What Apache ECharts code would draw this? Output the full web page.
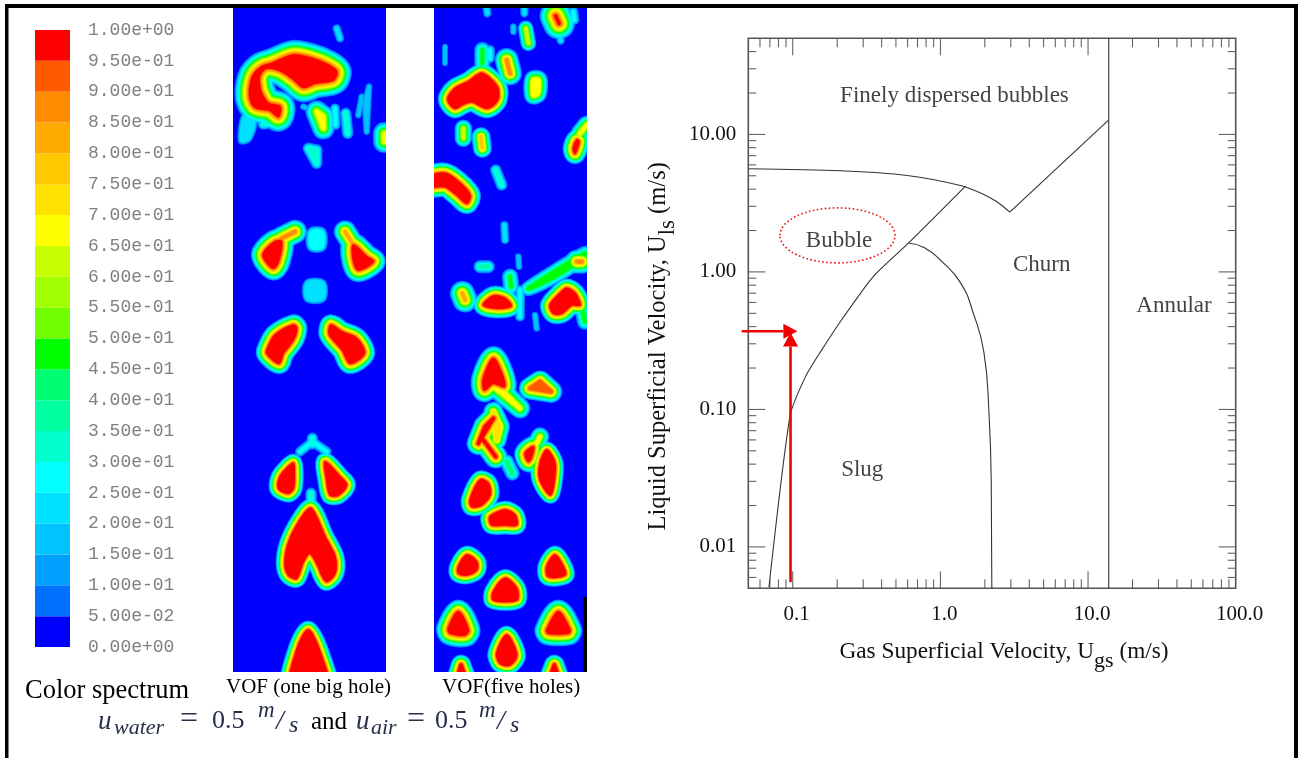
<!DOCTYPE html>
<html><head><meta charset="utf-8">
<style>html,body{margin:0;padding:0;background:#fff}#c{width:1298px;height:758px}</style>
<script src="https://cdn.jsdelivr.net/npm/echarts@6/dist/echarts.min.js"></script>
</head><body><div id="c"></div>
<script>
// ---- colour spectrum (top to bottom) ----
const spectrumLabels = ['0.00e+00','5.00e-02','1.00e-01','1.50e-01','2.00e-01','2.50e-01','3.00e-01','3.50e-01','4.00e-01','4.50e-01','5.00e-01','5.50e-01','6.00e-01','6.50e-01','7.00e-01','7.50e-01','8.00e-01','8.50e-01','9.00e-01','9.50e-01','1.00e+00'];
const spectrumColors = ['#0000ff','#0070ff','#00a0ff','#00c4ff','#00e0ff','#00ffff','#00ffcc','#00ffa0','#00ff70','#00ff00','#70ff00','#a0ff00','#c8ff00','#ffff00','#ffe100','#ffc800','#ffaa00','#ff8c00','#ff5a00','#ff0000'];
const spectrumStep = [0.05];

// ---- VOF contour cores: [peak level, transition width, [x,y, x,y, ...]] ----
const leftVofUpper = [
 [19,1,[75,260,85,225,110,200,140,190,205,165,260,175,310,195,335,215,325,240,270,250,235,262,205,238,165,212,125,205,105,225,103,250,110,280,130,310,165,320,160,350,135,332,90,322,75,295]],
 [4,1,[60,350,85,365,70,415,50,420]],[6,1,[115,372,155,365]],[4,1,[335,85,345,115]],
 [13,1,[275,335,295,350,295,385]],[5,1,[330,325,332,375]],[6,1,[362,340,368,400]],
 [3,1,[410,290,400,345]],[3,1,[432,260,420,310,425,395]],[13,1,[478,400,478,425]],
 [6,1,[250,445,275,450,275,490]],[3,1,[235,320,240,322]],
 [19,.8,[115,760,150,725,170,725,160,785,145,805,120,780]],[17,.8,[170,715,210,695]],
 [19,.8,[385,735,425,770,445,785,400,810,385,780]],[16,.8,[360,695,385,735]],
 [5,1,[260,697,290,697,290,740,260,740]],[4,1,[248,850,292,850,292,895,248,895]],
 [19,.7,[205,975,215,985,205,1020,175,1060,162,1090,125,1060,130,1040,150,1005]],
 [19,.7,[318,975,350,995,395,1015,418,1060,375,1090,352,1050,325,1020,312,1000]]
];
const leftVofLower = [
 [6,1,[262,295,262,312]],[5,1,[262,305,225,335]],[5,1,[262,305,305,335]],
 [19,.6,[205,370,208,400,205,445,190,460,160,445,165,410,190,380]],
 [19,.6,[300,365,345,410,365,435,340,465,315,465,305,420]],
 [6,1,[258,460,258,480]],
 [19,.6,[258,505,300,590,330,650,330,700,305,725,290,705,280,680,255,640,235,665,215,715,190,705,180,670,190,610,225,540]],
 [19,.6,[250,870,290,950,310,1050,195,1050,215,930]]
];
const rightVofUpper = [
 [19,1,[392,48,402,70]],[4,1,[405,110,407,122]],[4,1,[185,25,187,40]],[4,1,[298,25,298,40]],[5,1,[445,35,448,60]],
 [12,.7,[302,85,310,130]],[3,1,[265,80,265,95]],[3,.7,[60,140,60,190]],[9,1,[172,150,172,190]],[5,1,[195,150,195,175]],
 [17,.8,[245,180,255,220]],[13,.8,[325,240,340,240,338,280,325,285]],
 [19,.65,[70,290,90,265,130,245,170,220,205,245,220,270,215,305,185,325,140,305,110,315,90,325,70,305]],
 [12,.8,[115,385,115,415]],[15,.7,[168,410,172,445]],[6,1,[212,510,230,555]],[4,1,[238,675,240,720]],
 [19,.7,[455,420,462,425,450,460,445,445]],[13,.8,[465,400,485,375]],
 [19,.7,[10,530,60,520,100,545,135,585,125,610,95,585,60,560,10,560]],
 [17,.8,[455,785,470,785]],[9,.9,[480,760,430,805,350,850,310,865]],
 [16,.9,[112,880,120,900]],[7,1,[165,800,190,800]],[9,1,[255,830,258,860]],
 [19,.65,[175,915,205,888,240,895,258,918,215,925]],[5,1,[285,870,285,950]],
 [3,1,[280,770,282,800]],[3,1,[330,945,335,985]],
 [19,.65,[375,915,405,880,425,865,450,880,465,915,440,915,410,940,385,940]],[9,1,[475,940,480,965]]
];
const rightVofLower = [
 [19,.8,[175,115,205,55,230,100,238,140,205,130,178,150]],[13,.9,[200,135,245,165,285,205]],
 [18,.7,[315,145,345,125,378,155]],
 [19,.7,[205,235,180,260,160,310]],[19,.7,[175,300,212,350]],[14,.8,[205,215,225,260,215,300]],
 [8,1,[245,365,262,400]],
 [19,.7,[300,340,325,320,320,350,310,365]],[13,.8,[345,290,330,320]],
 [19,.55,[365,330,390,370,385,440,375,465,345,420,345,370]],
 [19,.6,[135,480,165,420,190,430,195,465,170,495,140,500]],
 [19,.6,[195,530,240,510,270,525,275,555,240,555,200,555]],
 [19,.6,[100,680,125,645,155,665,155,690,125,705,100,700]],
 [19,.6,[365,680,390,645,415,680,420,705,370,710]],
 [19,.6,[205,755,240,715,275,745,275,780,205,780]],
 [19,.8,[70,865,100,815,130,870,120,885,75,880]],
 [19,.8,[365,870,400,815,435,870,430,880,370,880]],
 [19,.6,[215,940,245,885,275,945,255,975,225,970]],
 [19,.6,[85,1050,108,975,135,1050]],
 [19,.6,[360,1050,388,975,415,1050]]
];
const lowerPanelOffset = [1020];

// ---- flow-regime map ----
const xMinorTicks = [.06,.07,.08,.09,.2,.3,.4,.5,.6,.7,.8,.9,2,3,4,5,6,7,8,9,20,30,40,50,60,70,80,90];
const xMajorTicks = [.1,1,10];
const yMinorTicks = [.006,.007,.008,.009,.02,.03,.04,.05,.06,.07,.08,.09,.2,.3,.4,.5,.6,.7,.8,.9,2,3,4,5,6,7,8,9,20,30,40];
const yMajorTicks = [.01,.1,1,10];
const dispersedCurve = [[.05,5.63],[.2095,5.44],[.594,5.03],[1.367,4.25],[1.968,3.66],[2.43,3.22],[2.95,2.72]];
const churnRise = [[2.95,2.72],[13.76,12.72]];
const bubbleSlugCurve = [[.069,.0051],[.096,.0904],[.1225,.1746],[.153,.259],[.215,.451],[.352,.929],[.61,1.624],[1.48,4.21]];
const slugChurnCurve = [[.61,1.624],[.78,1.5],[1.0,1.22],[1.367,.836],[1.68,.492],[1.97,.261],[2.13,.0973],[2.21,.0295],[2.23,.005]];
const annularLine = [[13.8,.005],[13.8,50]];
const regionNames = ['Finely dispersed bubbles','Bubble','Churn','Annular','Slug'];
const regionX = [1.245,.206,4.85,38.2,.2955];
const regionY = [19.1,1.687,1.13,.569,.036];
const ellipseCentre = [.2009,1.844];
const arrowSegments = [[.0966,.00554,.0966,.362],[.0451,.37,.1075,.37]];

const SERIF = 'Liberation Serif';
const blobs = (u,l)=>u.concat(l.map(b=>[b[0],b[1],b[2].map((v,i)=>i%2?v+lowerPanelOffset[0]:v)]));
const vofPanels = [blobs(leftVofUpper,leftVofLower), blobs(rightVofUpper,rightVofLower)];

function vofRender(panel){
  return function(params, api){
    const level = params.dataIndex + 1;
    const color = spectrumColors[level];
    const children = [];
    vofPanels[panel].forEach(b=>{
      if(b[0] < level) return;
      const pts=[];
      for(let i=0;i<b[2].length;i+=2) pts.push(api.coord([b[2][i],b[2][i+1]]));
      const thin = pts.length<4 || b[0]<19;
      children.push({type:'polygon',shape:{points:pts,smooth:pts.length>=4?0.3:0},
        style:{fill:color,stroke:color,lineWidth:(thin?3.5:1.5)+1.6*b[1]*(b[0]-level),lineJoin:'round',lineCap:'round'}});
    });
    return {type:'group',children};
  };
}
const vofLevels = spectrumColors.slice(1).map((c,i)=>[0,0,i+1]);

function tickRender(params, api){
  const tl=api.coord([.05,50]), br=api.coord([100,.005]);
  const st={stroke:'#555',lineWidth:1};
  const ch=[];
  const mk=(x1,y1,x2,y2)=>ch.push({type:'line',shape:{x1,y1,x2,y2},style:st});
  [[xMinorTicks,9],[xMajorTicks,17]].forEach(([t,len])=>t.forEach(v=>{
    const x=api.coord([v,1])[0]; mk(x,br[1],x,br[1]-len); mk(x,tl[1],x,tl[1]+len);
  }));
  [[yMinorTicks,8],[yMajorTicks,17]].forEach(([t,len])=>t.forEach(v=>{
    const y=api.coord([1,v])[1]; mk(tl[0],y,tl[0]+len,y); mk(br[0],y,br[0]-len,y);
  }));
  return {type:'group',children:ch};
}
function ellipseRender(params, api){
  const c=api.coord(ellipseCentre);
  return {type:'ellipse',shape:{cx:c[0],cy:c[1],rx:57.5,ry:27.5},
    style:{fill:'none',stroke:'#f01010',lineWidth:1.6,lineDash:[1.6,2.4]}};
}
function arrowRender(params, api){
  const a=arrowSegments[params.dataIndex];
  const p=api.coord([a[0],a[1]]), q=api.coord([a[2],a[3]]);
  const dx=q[0]-p[0], dy=q[1]-p[1], n=Math.hypot(dx,dy), ux=dx/n, uy=dy/n, h=14, w=7.5;
  const bx=q[0]-ux*h, by=q[1]-uy*h;
  return {type:'group',children:[
    {type:'line',shape:{x1:p[0],y1:p[1],x2:bx,y2:by},style:{stroke:'#f00000',lineWidth:2.6}},
    {type:'polygon',shape:{points:[[q[0],q[1]],[bx-uy*w,by+ux*w],[bx+uy*w,by-ux*w]]},style:{fill:'#f00000'}}
  ]};
}
const curve=(data,smooth)=>({type:'line',xAxisIndex:3,yAxisIndex:3,data,smooth,showSymbol:false,symbol:'none',
  lineStyle:{color:'#333',width:1.1},clip:true,z:3});

const text=(t,x,y,font,color,extra)=>({type:'text',x,y,silent:true,z:20,
  style:Object.assign({text:t,font,fill:color||'#000',textVerticalAlign:'middle',verticalAlign:'middle'},extra||{})});
const eq=(t,x,y,size,it,c)=>text(t,x,y,(it?'italic ':'')+size+'px "'+SERIF+'"',c||'#26304a');

const option={
  animation:false,backgroundColor:'#fff',tooltip:{show:false},
  grid:[
    {left:35,top:30,width:35,height:617,show:false},
    {left:233,top:8,width:153,height:664,show:true,backgroundColor:'#0000ff',borderWidth:0},
    {left:434,top:8,width:153,height:664,show:true,backgroundColor:'#0000ff',borderWidth:0},
    {left:748.3,top:38.3,width:487.4,height:550,show:true,borderColor:'#555',borderWidth:1.6,backgroundColor:'transparent'}
  ],
  xAxis:[
    {gridIndex:0,type:'category',data:['spectrum'],show:false},
    {gridIndex:1,type:'value',min:24,max:483,show:false},
    {gridIndex:2,type:'value',min:27,max:486,show:false},
    {gridIndex:3,type:'log',min:.05,max:100,logBase:10,
     axisLine:{show:false},axisTick:{show:false},splitLine:{show:false},minorTick:{show:false},minorSplitLine:{show:false},
     axisLabel:{show:true,customValues:[.1,1,10,100],margin:16,fontFamily:SERIF,fontSize:21,color:'#111',
       formatter:v=>v>=1?(v>=100?'100.0':(+v).toFixed(1)):'0.1',padding:[0,0,0,8]},
     name:'Gas Superficial Velocity, U{sub|gs} (m/s)',nameLocation:'middle',nameGap:44,
     nameTextStyle:{fontFamily:SERIF,fontSize:23.3,color:'#111',padding:[0,0,0,24],
       rich:{sub:{fontFamily:SERIF,fontSize:22,color:'#111',padding:[18,0,0,0]}}}}
  ],
  yAxis:[
    {gridIndex:0,type:'value',min:0,max:1,interval:.05,position:'right',offset:18,
     axisLine:{show:false},axisTick:{show:false},splitLine:{show:false},
     axisLabel:{show:true,align:'left',margin:0,fontFamily:'Liberation Mono',fontSize:18,color:'#808080',
       formatter:(v)=>spectrumLabels[Math.round(v/.05)]}},
    {gridIndex:1,type:'value',min:24,max:2016,inverse:true,show:false},
    {gridIndex:2,type:'value',min:24,max:2016,inverse:true,show:false},
    {gridIndex:3,type:'log',min:.005,max:50,logBase:10,
     axisLine:{show:false},axisTick:{show:false},splitLine:{show:false},minorTick:{show:false},minorSplitLine:{show:false},
     axisLabel:{show:true,customValues:[.01,.1,1,10],margin:12,fontFamily:SERIF,fontSize:21,color:'#111',
       formatter:v=>(+v).toFixed(2)},
     name:'Liquid Superficial Velocity, U{sub|ls} (m/s)',nameLocation:'middle',nameRotate:90,nameGap:69,
     nameTextStyle:{fontFamily:SERIF,fontSize:24.5,color:'#111',padding:[0,66,0,0],
       rich:{sub:{fontFamily:SERIF,fontSize:23,color:'#111',padding:[18,0,0,0]}}}}
  ],
  series:[
    ...spectrumColors.map((c)=>({type:'bar',xAxisIndex:0,yAxisIndex:0,stack:'s',barWidth:'100%',data:[spectrumStep[0]],itemStyle:{color:c},silent:true})),
    {type:'custom',xAxisIndex:1,yAxisIndex:1,coordinateSystem:'cartesian2d',clip:true,silent:true,data:vofLevels,encode:{x:0,y:1},renderItem:vofRender(0)},
    {type:'custom',xAxisIndex:2,yAxisIndex:2,coordinateSystem:'cartesian2d',clip:true,silent:true,data:vofLevels,encode:{x:0,y:1},renderItem:vofRender(1)},
    {type:'custom',xAxisIndex:3,yAxisIndex:3,coordinateSystem:'cartesian2d',silent:true,clip:false,data:[[1,1]],encode:{x:0,y:1},renderItem:tickRender,z:2},
    curve(dispersedCurve,.3),curve(churnRise,false),curve(bubbleSlugCurve,.2),curve(slugChurnCurve,.5),curve(annularLine,false),
    {type:'scatter',xAxisIndex:3,yAxisIndex:3,symbolSize:0,silent:true,z:4,
     data:regionNames.map((n,i)=>({name:n,value:[regionX[i],regionY[i]]})),
     label:{show:true,position:'inside',formatter:'{b}',fontFamily:SERIF,fontSize:23,color:'#111'}},
    {type:'custom',xAxisIndex:3,yAxisIndex:3,coordinateSystem:'cartesian2d',silent:true,clip:false,data:[ellipseCentre],encode:{x:0,y:1},renderItem:ellipseRender,z:5},
    {type:'custom',xAxisIndex:3,yAxisIndex:3,coordinateSystem:'cartesian2d',silent:true,clip:false,data:arrowSegments.map(a=>[a[0],a[1]]),encode:{x:0,y:1},renderItem:arrowRender,z:6}
  ],
  graphic:[
    {type:'rect',shape:{x:5,y:4,width:1293,height:4},style:{fill:'#000'},silent:true,z:30},
    {type:'rect',shape:{x:5,y:4,width:3.5,height:754},style:{fill:'#000'},silent:true,z:30},
    {type:'rect',shape:{x:1294,y:4,width:4,height:754},style:{fill:'#000'},silent:true,z:30},
    {type:'rect',shape:{x:583.5,y:597,width:3.5,height:75},style:{fill:'#000'},silent:true,z:30},
    text('Color spectrum',25,691,'26.5px "'+SERIF+'"'),
    text('VOF (one big hole)',226,687,'21px "'+SERIF+'"'),
    text('VOF(five holes)',442,687,'21px "'+SERIF+'"'),
    eq('u',98,722,27,true),eq('water',114,728,22,true),eq('=',180,720,32),eq('0.5',212,721,26),
    eq('m',258,711,23,true),eq('/',276,722,28,true),eq('s',289,726,24,true),
    text('and',311,722,'25px "'+SERIF+'"'),
    eq('u',356,722,27,true),eq('air',371,728,22,true),eq('=',407,720,32),eq('0.5',435,721,26),
    eq('m',479,711,23,true),eq('/',497,722,28,true),eq('s',510,726,24,true)
  ]
};
echarts.init(document.getElementById('c'),null,{renderer:'canvas'}).setOption(option);
</script></body></html>
